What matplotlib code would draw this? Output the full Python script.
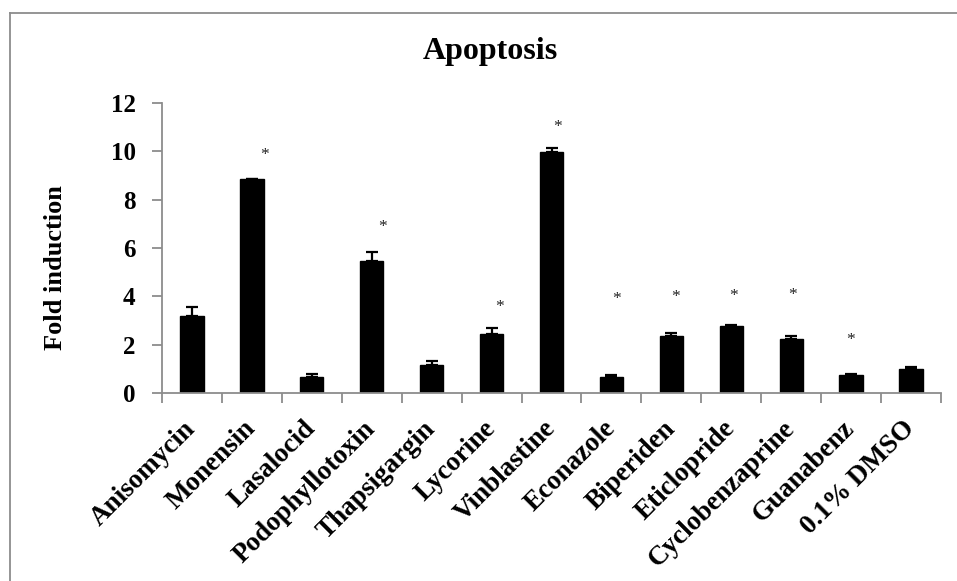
#apoptosis fold induction bar chart
import matplotlib
matplotlib.use('Agg')
import matplotlib.pyplot as plt
from matplotlib.lines import Line2D
import numpy as np

#data
drugs = ['Anisomycin', 'Monensin', 'Lasalocid', 'Podophyllotoxin', 'Thapsigargin', 'Lycorine',
         'Vinblastine', 'Econazole', 'Biperiden', 'Eticlopride', 'Cyclobenzaprine', 'Guanabenz',
         '0.1% DMSO']
fold = [3.17, 8.84, 0.65, 5.48, 1.15, 2.43, 9.99, 0.68, 2.35, 2.78, 2.25, 0.75, 0.98]
err = [0.38, 0.02, 0.15, 0.36, 0.19, 0.25, 0.16, 0.07, 0.15, 0.05, 0.10, 0.05, 0.10]
#height of the significance stars (None = no star)
star_y = [None, 9.85, None, 6.86, None, 3.54, 11.02, 3.91, 3.97, 4.01, 4.05, 2.2, None]

plt.rcParams['font.family'] = ['Liberation Serif', 'DejaVu Serif']
plt.rcParams['font.weight'] = 'bold'

W, H = 957, 581
fig = plt.figure(figsize=(W/100, H/100), dpi=100)
ax = fig.add_axes([162/W, 1-393/H, (941-162)/W, 290/H])

grey = '#8c8c8c'
x = np.arange(len(drugs))
ax.bar(x, fold, width=0.39, color='black', edgecolor='black', zorder=2)
ax.errorbar(x, fold, yerr=[np.zeros(len(err)), err], fmt='none', ecolor='black',
            elinewidth=1.6, capsize=4.5, capthick=1.6, zorder=3)

for i, s in enumerate(star_y):
    if s is not None:
        ax.text(i + 0.24 - 0.022*i, s, '*', ha='center', va='center', fontsize=12.5,
                fontweight='normal', color='#222222')

ax.set_xlim(-0.5, len(drugs)-0.5)
ax.set_ylim(0, 12)
ax.set_yticks(range(0, 13, 2))
ax.set_xticks(x)
ax.set_xticklabels(drugs, rotation=45, ha='right', va='center', rotation_mode='anchor',
                   fontsize=19.5, fontweight='bold')
ax.set_xticks(np.arange(-0.5, len(drugs), 1), minor=True)
ax.tick_params(axis='x', which='major', length=0, pad=23)
ax.tick_params(axis='x', which='minor', length=7, width=1.3, color=grey, direction='out')
ax.tick_params(axis='y', length=7, width=1.3, color=grey, direction='out', pad=12, labelsize=18)
for lab in ax.get_yticklabels():
    lab.set_fontweight('bold')

for sp in ['top', 'right']:
    ax.spines[sp].set_visible(False)
for sp in ['left', 'bottom']:
    ax.spines[sp].set_color(grey)
    ax.spines[sp].set_linewidth(1.3)

ax.set_ylabel('Fold induction', fontsize=19, fontweight='bold', va='center')
ax.yaxis.set_label_coords(-0.137, 0.433)

fig.text(490/W, 1-52/H, 'Apoptosis', ha='center', va='center', fontsize=23, fontweight='bold')

#chart border (left + top, cut off at the right and bottom)
fig.add_artist(Line2D([10/W, 10/W], [0, 1-13/H], color=grey, lw=1.3, transform=fig.transFigure))
fig.add_artist(Line2D([10/W, 1], [1-13/H, 1-13/H], color=grey, lw=1.3, transform=fig.transFigure))

fig.savefig('out.png', dpi=100)
